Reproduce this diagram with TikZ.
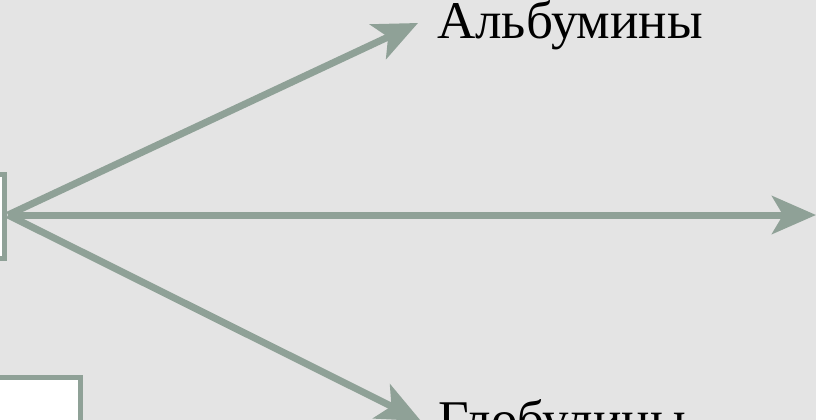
\documentclass[tikz,border=0pt]{standalone}
\usepackage{fontspec}
\setmainfont{Liberation Serif}
\usetikzlibrary{arrows.meta}
\definecolor{bgray}{HTML}{E4E4E4}
\definecolor{sage}{HTML}{8FA197}
\tikzset{
  flow/.style={draw=sage, line width=7pt,
    -{Stealth[length=44pt,width=38pt,inset=11pt]}},
  frame/.style={draw=sage, line width=5pt, fill=white},
  label/.style={font=\fontsize{53}{60}\selectfont, text=black, inner sep=0pt, anchor=base west}
}
\begin{document}
\begin{tikzpicture}[x=1pt,y=-1pt]
  \useasboundingbox (0,0) rectangle (816,420);
  \fill[bgray] (0,0) rectangle (816,420);
  \clip (0,0) rectangle (816,420);
  % source frame on the left edge and the lower frame
  \draw[frame] (-60,174) rectangle (4.5,258);
  \draw[frame] (-60,377.5) rectangle (80.5,480);
  \node[inner sep=0pt] (srcbox) at (-28,216) {};
  \coordinate (src) at (8,215);
  % targets
  \coordinate (tipA) at (418,23);
  \coordinate (tipB) at (816,215);
  \coordinate (tipC) at (421,421);
  \node[label] (alb) at (437,38) {Альбумины};
  \node[label] (glob) at (438,437) {Глобулины};
  \draw[flow] (src) -- (tipA);
  \draw[flow] (src) -- (tipB);
  \draw[flow] (src) -- (tipC);
\end{tikzpicture}
\end{document}
